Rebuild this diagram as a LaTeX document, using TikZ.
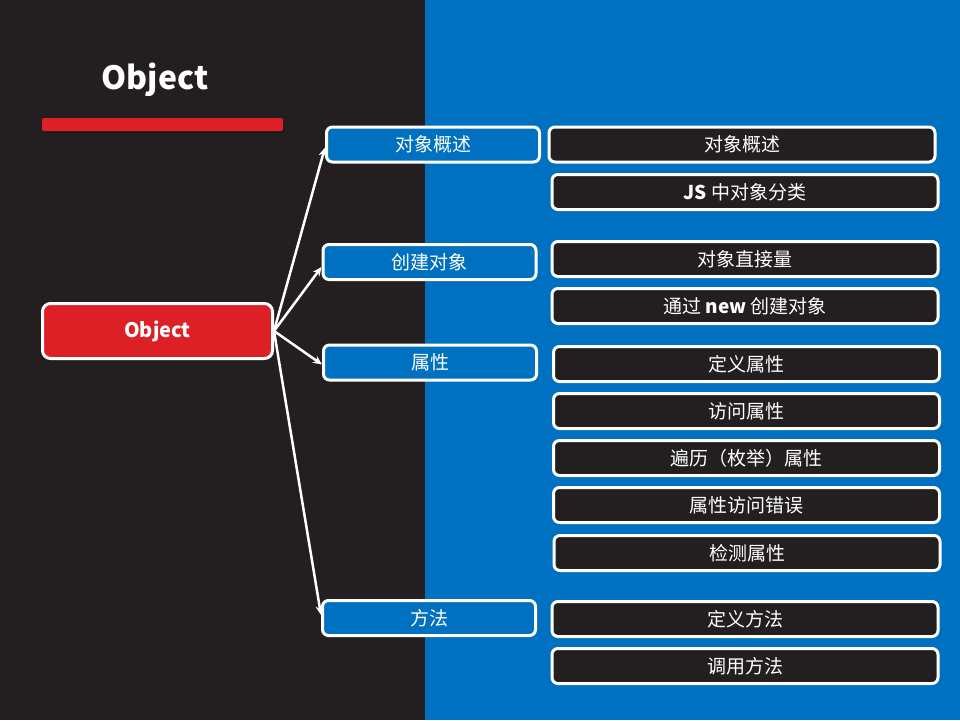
\documentclass[tikz,border=0pt]{standalone}
\usepackage{fontspec}
\setmainfont{Noto Sans CJK SC}
\usetikzlibrary{positioning}
\usetikzlibrary{arrows.meta,shadows}

\definecolor{darkbg}{HTML}{231F20}
\definecolor{bluebg}{HTML}{0070C0}
\definecolor{objred}{HTML}{DD1F26}

\tikzset{
  topic/.style={draw=white, line width=3pt, rounded corners=6pt, fill=bluebg, text=white,
    minimum width=213pt, minimum height=35pt, inner sep=0pt,
    font=\fontsize{19}{19}\selectfont},
  subtopic/.style={topic, fill=darkbg, minimum width=386pt},
  rootbox/.style={topic, fill=objred, minimum width=230pt, minimum height=55pt,
    rounded corners=8pt, font=\fontsize{20}{20}\selectfont\bfseries},
  branch/.style={draw=white, line width=2.5pt, -{Stealth[length=9pt,width=8pt]}}
}

\begin{document}
\begin{tikzpicture}[x=1pt,y=-1pt]
\useasboundingbox (0,0) rectangle (960,720);
\fill[darkbg] (0,0) rectangle (425,720);
\fill[bluebg] (425,0) rectangle (960,720);

% title
\node[text=white, font=\fontsize{32}{32}\selectfont\bfseries] (title) at (155,80) {Object};
\fill[objred, rounded corners=2pt, drop shadow={shadow xshift=1pt, shadow yshift=-2pt, opacity=0.2, fill=black}]
  (42,118) rectangle (283,131);

% root
\node[rootbox] (root) at (157.5,331) {Object};

% first level
\node[topic] (overview) at (433,144.5) {对象概述};
\node[topic] (create) at (429.5,262) {创建对象};
\node[topic] (props) at (430,362.5) {属性};
\node[topic] (methods) at (429,618) {方法};

% second level
\node[subtopic] (ovA) at (742,144.5) {对象概述};
\node[subtopic] (ovB) at (745,192) {\textbf{JS} 中对象分类};
\node[subtopic] (crA) at (745,259) {对象直接量};
\node[subtopic] (crB) at (745,306) {通过 \textbf{new} 创建对象};
\node[subtopic] (prA) at (746.5,364) {定义属性};
\node[subtopic] (prB) at (746.5,411) {访问属性};
\node[subtopic] (prC) at (746.5,458) {遍历（枚举）属性};
\node[subtopic] (prD) at (746.5,505) {属性访问错误};
\node[subtopic] (prE) at (747,553) {检测属性};
\node[subtopic] (mtA) at (745,619) {定义方法};
\node[subtopic] (mtB) at (745,666) {调用方法};

% branches
\draw[branch] (root.east) -- ([yshift=-3pt]overview.west);
\draw[branch] (root.east) -- ([yshift=-5pt]create.west);
\draw[branch] (root.east) -- ([yshift=-2pt]props.west);
\draw[branch] (root.east) -- ([yshift=3pt]methods.west);

\end{tikzpicture}
\end{document}
